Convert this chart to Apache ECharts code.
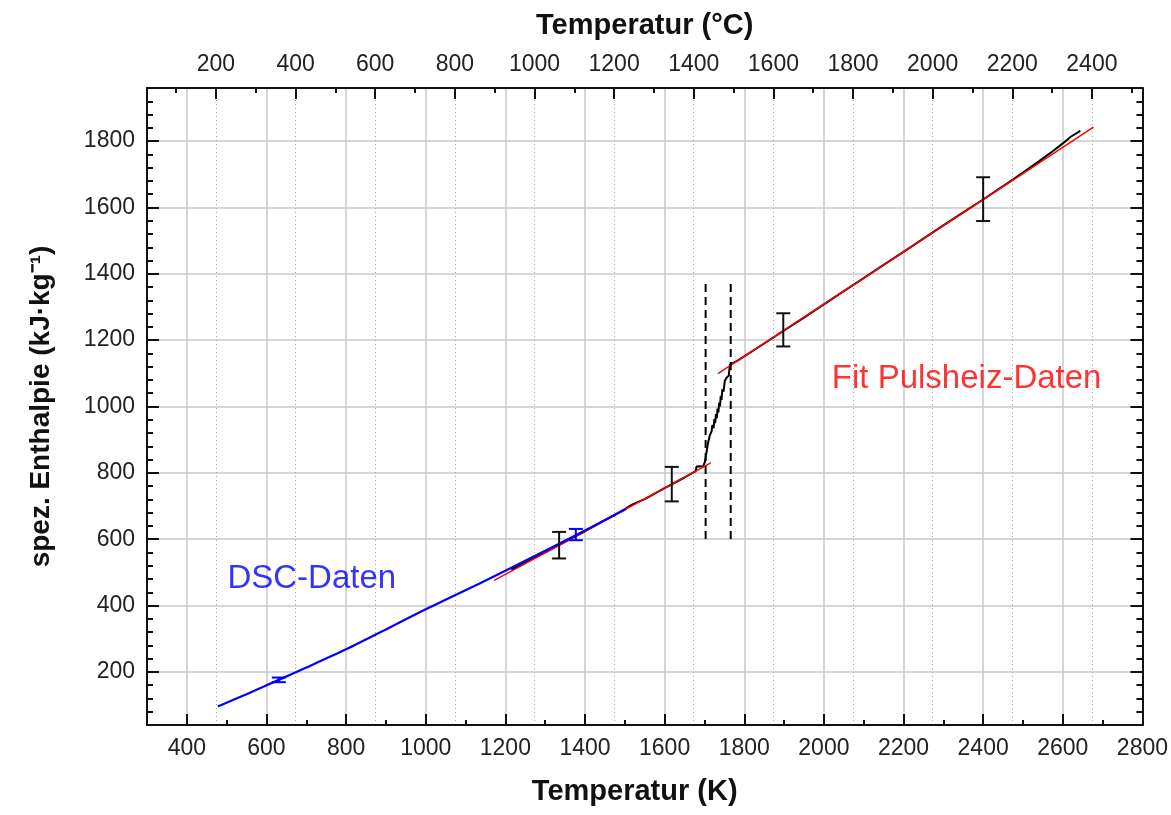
<!DOCTYPE html>
<html>
<head>
<meta charset="utf-8">
<script src="https://cdn.jsdelivr.net/npm/echarts@6/dist/echarts.min.js"></script>
<style>
html,body{margin:0;padding:0;background:#fff;}
#chart{width:1171px;height:815px;}
</style>
</head>
<body>
<div id="chart"></div>
<script>
// ---- tick values ----
const kMajor = [400,600,800,1000,1200,1400,1600,1800,2000,2200,2400,2600,2800];
const kMinor = [500,700,900,1100,1300,1500,1700,1900,2100,2300,2500,2700];
const cMajor = [200,400,600,800,1000,1200,1400,1600,1800,2000,2200,2400];
const cMinor = [100,300,500,700,900,1100,1300,1500,1700,1900,2100,2300,2500];
const hMajor = [200,400,600,800,1000,1200,1400,1600,1800];
const hMinor = [40,80,120,160,240,280,320,360,440,480,520,560,640,680,720,760,840,880,920,960,
                1040,1080,1120,1160,1240,1280,1320,1360,1440,1480,1520,1560,1640,1680,1720,1760,1840,1880,1920,1960];

// ---- data (K, kJ/kg) ----
const dscData = [[478,96],[550,133],[631,176],[700,213],[800,268],[900,328],[1000,389],[1134,466],
                 [1200,505],[1300,565],[1377,612],[1450,658],[1502,690]];
const dscErr = [[631,176,7],[1377,614,17]];
const fitSolid = [[1172,476],[1300,559],[1400,624],[1535,712],[1618,766],[1716,830]];
const fitLiquid = [[1734,1099],[1900,1230],[2100,1387],[2300,1545],[2500,1702],[2677,1842]];
const pulseData = [[1215,508],[1250,530],[1300,560],[1350,592],[1400,624],[1450,657],[1500,691],[1518,704],
                   [1550,721],[1600,754],[1650,786],[1678,805],[1680,819],[1690,820],[1696,818],[1701,832],
                   [1705,860],[1709,890],[1714,915],[1718,925],[1720,945],[1723,935],[1725,962],[1727,950],
                   [1729,977],[1731,965],[1733,994],[1735,982],[1737,1012],[1739,1000],[1741,1032],[1743,1020],
                   [1745,1052],[1748,1045],[1751,1076],[1755,1086],[1761,1093],[1764,1097],
                   [1764,1126],[1780,1136],[1800,1151],[1850,1190],[1900,1229],[1950,1268],[2000,1308],[2050,1348],
                   [2100,1387],[2150,1427],[2200,1466],[2250,1506],[2300,1546],[2350,1585],[2400,1624],[2450,1664],
                   [2500,1705],[2539,1738],[2573,1768],[2600,1793],[2620,1813],[2644,1831]];
const pulseErr = [[1335,582,40],[1618,766,52],[1898,1231,50],[2400,1625,66]];
const meltLines = [[1703,601,1374],[1766,601,1374]];
const annotations = [
  {text:'DSC-Daten', pos:[502,479], color:'#0000ff'},
  {text:'Fit Pulsheiz-Daten', pos:[2020,1084], color:'#ff0000'}
];

const FONT = "'Liberation Sans', Arial, sans-serif";
const C_OFFSET = 273.15;
const kMin = 300, kMax = 2800, hMin = 40, hMax = 1960;

function errRender(color){
  return function(params, api){
    const x = api.value(0), y = api.value(1), e = api.value(2);
    const t = api.coord([x, y+e]), b = api.coord([x, y-e]);
    const hw = 7;
    const st = {stroke: color, lineWidth: 2};
    return {type:'group', children:[
      {type:'line', shape:{x1:t[0],y1:t[1],x2:b[0],y2:b[1]}, style:st},
      {type:'line', shape:{x1:t[0]-hw,y1:t[1],x2:t[0]+hw,y2:t[1]}, style:st},
      {type:'line', shape:{x1:b[0]-hw,y1:b[1],x2:b[0]+hw,y2:b[1]}, style:st}
    ]};
  };
}

const axisLineStyle = {color:'#111', width:2};
const plain = v => String(v);
const labelStyle = {fontFamily:FONT, fontSize:23, color:'#222', formatter:plain};

const option = {
  animation:false,
  backgroundColor:'#fff',
  grid:{left:147, right:27, top:88, bottom:90, containLabel:false},
  xAxis:[
    {type:'value', position:'bottom', min:kMin, max:kMax,
     axisLine:{show:true, onZero:false, lineStyle:axisLineStyle},
     axisTick:{show:true, inside:true, length:11, customValues:kMajor, lineStyle:{color:'#111', width:2}},
     axisLabel:{customValues:kMajor, margin:12, ...labelStyle},
     splitLine:{show:true, lineStyle:{color:'#c8c8c8', width:1.5}},
     name:'Temperatur (K)', nameLocation:'middle', nameGap:52,
     nameTextStyle:{fontFamily:FONT, fontSize:29, fontWeight:'bold', color:'#111', padding:[0,20,0,0]}},
    {type:'value', position:'bottom', min:kMin, max:kMax,
     axisLine:{show:false, onZero:false},
     axisTick:{show:true, inside:true, length:5, customValues:kMinor, lineStyle:{color:'#111', width:2}},
     axisLabel:{show:false}, splitLine:{show:false}},
    {type:'value', position:'top', min:kMin-C_OFFSET, max:kMax-C_OFFSET,
     axisLine:{show:true, onZero:false, lineStyle:axisLineStyle},
     axisTick:{show:true, inside:true, length:11, customValues:cMajor, lineStyle:{color:'#111', width:2}},
     axisLabel:{customValues:cMajor, margin:12, ...labelStyle},
     splitLine:{show:true, lineStyle:{color:'#a8a8a8', width:1, type:[1,3]}},
     name:'Temperatur (°C)', nameLocation:'middle', nameGap:48,
     nameTextStyle:{fontFamily:FONT, fontSize:29, fontWeight:'bold', color:'#111'}},
    {type:'value', position:'top', min:kMin-C_OFFSET, max:kMax-C_OFFSET,
     axisLine:{show:false, onZero:false},
     axisTick:{show:true, inside:true, length:5, customValues:cMinor, lineStyle:{color:'#111', width:2}},
     axisLabel:{show:false}, splitLine:{show:false}}
  ],
  yAxis:[
    {type:'value', position:'left', min:hMin, max:hMax,
     axisLine:{show:true, onZero:false, lineStyle:axisLineStyle},
     axisTick:{show:true, inside:true, length:12, customValues:hMajor, lineStyle:{color:'#111', width:2}},
     axisLabel:{customValues:hMajor, margin:12, ...labelStyle},
     splitLine:{show:true, lineStyle:{color:'#c8c8c8', width:1.5}},
     name:'spez. Enthalpie (kJ·kg⁻¹)', nameLocation:'middle', nameGap:92, nameRotate:90,
     nameTextStyle:{fontFamily:FONT, fontSize:28, fontWeight:'bold', color:'#111'}},
    {type:'value', position:'left', min:hMin, max:hMax,
     axisLine:{show:false, onZero:false},
     axisTick:{show:true, inside:true, length:6, customValues:hMinor, lineStyle:{color:'#111', width:2}},
     axisLabel:{show:false}, splitLine:{show:false}},
    {type:'value', position:'right', min:hMin, max:hMax,
     axisLine:{show:true, onZero:false, lineStyle:axisLineStyle},
     axisTick:{show:true, inside:true, length:12, customValues:hMajor, lineStyle:{color:'#111', width:2}},
     axisLabel:{show:false}, splitLine:{show:false}},
    {type:'value', position:'right', min:hMin, max:hMax,
     axisLine:{show:false, onZero:false},
     axisTick:{show:true, inside:true, length:6, customValues:hMinor, lineStyle:{color:'#111', width:2}},
     axisLabel:{show:false}, splitLine:{show:false}}
  ],
  series:[
    {type:'line', name:'Pulsheiz', data:pulseData, showSymbol:false, symbol:'none',
     lineStyle:{color:'#000', width:2}, z:2},
    {type:'line', name:'FitSolid', data:fitSolid, symbol:'none',
     lineStyle:{color:'#ff0000', width:1.5}, z:3},
    {type:'line', name:'FitLiquid', data:fitLiquid, symbol:'none',
     lineStyle:{color:'#ff0000', width:1.5}, z:3},
    {type:'line', name:'DSC', data:dscData, symbol:'none', smooth:0.2,
     lineStyle:{color:'#0000ff', width:2.2}, z:4},
    {type:'custom', name:'DSCerr', data:dscErr, renderItem:errRender('#0000ff'), z:5},
    {type:'custom', name:'PulseErr', data:pulseErr, renderItem:errRender('#111'), z:5},
    ...meltLines.map(m => ({type:'line', data:[[m[0],m[1]],[m[0],m[2]]], symbol:'none',
      lineStyle:{color:'#000', width:2, type:[8,5]}, z:5})),
    ...annotations.map(a => ({type:'scatter', data:[a.pos], symbolSize:0, z:6,
      label:{show:true, position:'inside', align:'left', verticalAlign:'middle', formatter:a.text,
             fontFamily:FONT, fontSize:33, color:a.color}}))
  ]
};

const chart = echarts.init(document.getElementById('chart'), null, {renderer:'canvas'});
chart.setOption(option);
</script>
</body>
</html>
